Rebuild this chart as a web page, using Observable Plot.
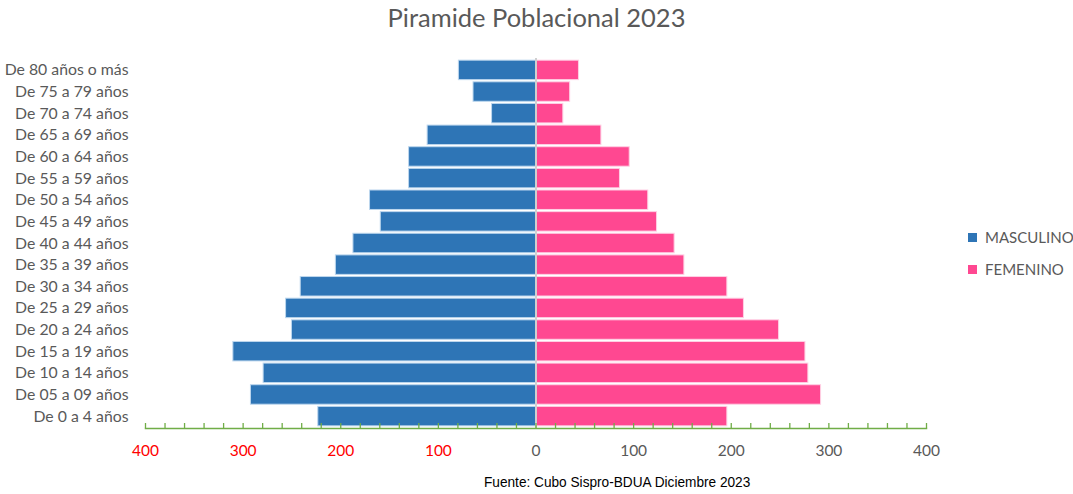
<!DOCTYPE html>
<html>
<head>
<meta charset="utf-8">
<script src="https://cdn.jsdelivr.net/npm/d3@7"></script>
<script src="https://cdn.jsdelivr.net/npm/@observablehq/plot@0.6"></script>
<style>
  body { margin: 0; background: #fff; }
  #wrap { position: relative; width: 1073px; height: 494px; font-family: Lato, "Open Sans", sans-serif; overflow: hidden; }
  #title { position: absolute; left: 0; width: 1073px; top: 2px; text-align: center; font-size: 25.5px; color: #595959; }
  #caption { position: absolute; left: 484px; top: 473px; font-family: "Liberation Sans Narrow", "Arial Narrow", "Liberation Sans", sans-serif; font-size: 15px; color: #000; transform: scaleX(0.91); transform-origin: left top; white-space: nowrap; }
  .leg { position: absolute; left: 968px; font-size: 15px; color: #595959; display: flex; align-items: center; white-space: nowrap; }
  .leg span.sw { width: 9px; height: 9px; display: inline-block; margin-right: 8px; }
  #plot { position: absolute; left: 0; top: 0; }
</style>
</head>
<body>
<div id="wrap">
  <div id="plot"></div>
  <div id="title">Piramide Poblacional 2023</div>
  <div class="leg" style="top:228px"><span class="sw" style="background:#2E75B6"></span>MASCULINO</div>
  <div class="leg" style="top:260px"><span class="sw" style="background:#FF4891"></span>FEMENINO</div>
  <div id="caption">Fuente: Cubo Sispro-BDUA Diciembre 2023</div>
</div>
<script>
const groups = ["De 80 años o más","De 75 a 79 años","De 70 a 74 años","De 65 a 69 años","De 60 a 64 años","De 55 a 59 años","De 50 a 54 años","De 45 a 49 años","De 40 a 44 años","De 35 a 39 años","De 30 a 34 años","De 25 a 29 años","De 20 a 24 años","De 15 a 19 años","De 10 a 14 años","De 05 a 09 años","De 0 a 4 años"];
const masculino = [79, 64, 45, 111, 130, 130, 170, 159, 187, 205, 241, 256, 250, 310, 279, 292, 223];
const femenino  = [44, 35, 28, 67, 96, 86, 115, 124, 142, 152, 196, 213, 249, 276, 279, 292, 196];
const leftTicks = [-400, -300, -200, -100];
const rightTicks = [0, 100, 200, 300, 400];
const minorTicks = d3.range(-400, 401, 20);

const male = groups.map((g, i) => ({group: g, value: -masculino[i]}));
const female = groups.map((g, i) => ({group: g, value: femenino[i]}));

const chart = Plot.plot({
  width: 1073,
  height: 494,
  marginLeft: 145,
  marginRight: 147,
  marginTop: 58,
  marginBottom: 66,
  style: {fontFamily: "Lato, 'Open Sans', sans-serif", background: "transparent"},
  x: {domain: [-400, 400]},
  y: {domain: groups, padding: 0.1, round: false, label: null},
  marks: [
    Plot.barX(male, {x: "value", y: "group", fill: "#2E75B6", stroke: "#BDD7EE", strokeWidth: 1}),
    Plot.barX(female, {x: "value", y: "group", fill: "#FF4891", stroke: "#FFD0E4", strokeWidth: 1}),
    Plot.ruleX([0], {stroke: "#D0D0D0", strokeWidth: 2}),
    Plot.frame({anchor: "bottom", stroke: "#70AD47", strokeWidth: 1.5}),
    Plot.axisX({ticks: minorTicks, tickSize: -5, text: null, stroke: "#70AD47", strokeWidth: 1.3, label: null}),
    Plot.axisX({ticks: leftTicks, tickSize: 0, tickPadding: 16, tickFormat: d => Math.abs(d), fill: "#FF0000", fontSize: 15.5, label: null}),
    Plot.axisX({ticks: rightTicks, tickSize: 0, tickPadding: 16, tickFormat: d => Math.abs(d), fill: "#595959", fontSize: 15.5, label: null}),
    Plot.axisY({tickSize: 0, tickPadding: 17, fill: "#595959", fontSize: 15.8, label: null})
  ]
});
document.getElementById("plot").appendChild(chart);
</script>
</body>
</html>
